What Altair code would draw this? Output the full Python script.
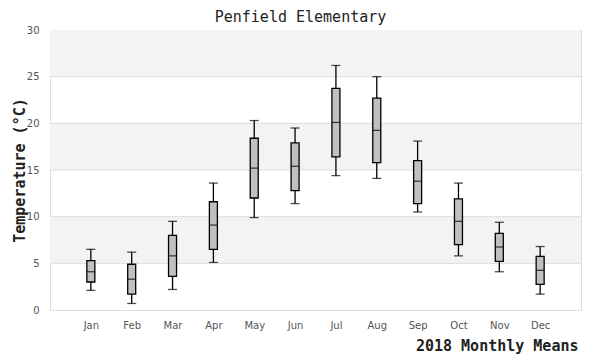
import altair as alt
import pandas as pd

months = ["Jan", "Feb", "Mar", "Apr", "May", "Jun", "Jul", "Aug", "Sep", "Oct", "Nov", "Dec"]
whisker_low = [2.1, 0.7, 2.2, 5.1, 9.9, 11.4, 14.4, 14.1, 10.5, 5.8, 4.1, 1.7]
q1 = [3.0, 1.7, 3.6, 6.5, 12.0, 12.8, 16.4, 15.8, 11.4, 7.0, 5.2, 2.75]
median = [4.1, 3.3, 5.8, 9.1, 15.2, 15.4, 20.1, 19.25, 13.8, 9.5, 6.75, 4.25]
q3 = [5.3, 4.9, 8.0, 11.6, 18.4, 17.9, 23.75, 22.7, 16.0, 11.9, 8.2, 5.75]
whisker_high = [6.5, 6.2, 9.5, 13.6, 20.3, 19.5, 26.2, 25.0, 18.1, 13.6, 9.4, 6.8]

band_lo = [5, 15, 25]
band_hi = [10, 20, 30]
grid_vals = [5, 10, 15, 20, 25]
y_ticks = [0, 5, 10, 15, 20, 25, 30]

W, H = 531, 280
MONO = "DejaVu Sans Mono"
SANS = "DejaVu Sans"

df = pd.DataFrame({"month": months, "lo": whisker_low, "q1": q1, "med": median,
                   "q3": q3, "hi": whisker_high})
bands = pd.DataFrame({"lo": band_lo, "hi": band_hi})
grid = pd.DataFrame({"v": grid_vals})

yscale = alt.Scale(domain=[0, 30], nice=False, zero=True)
xscale = alt.Scale(type="point", padding=1, domain=months)

x_enc = alt.X("month:N", sort=months, scale=xscale,
              axis=alt.Axis(title="2018 Monthly Means", labelAngle=0, ticks=False, domain=False,
                            labelFont=SANS, labelFontSize=10, labelColor="#555", labelPadding=10,
                            titleFont=MONO, titleFontSize=15, titleFontWeight="bold", titleColor="#222",
                            titleAnchor="end", titleAlign="right", titleBaseline="alphabetic",
                            titleX=W - 3, titleY=40, grid=False))

band_layer = alt.Chart(bands).mark_rect(fill="#f3f3f3").encode(
    x=alt.value(0), x2=alt.value(W),
    y=alt.Y("lo:Q", scale=yscale,
            axis=alt.Axis(title="Temperature (°C)", values=y_ticks, ticks=False, domain=False, grid=False,
                          labelFont=SANS, labelFontSize=10, labelColor="#555", labelPadding=11,
                          titleFont=MONO, titleFontSize=15, titleFontWeight="bold", titleColor="#222",
                          titleAngle=-90, titleAlign="center", titleBaseline="middle",
                          titleX=-31, titleY=H / 2)),
    y2="hi:Q",
)

grid_layer = alt.Chart(grid).mark_rule(color="#dddddd", strokeWidth=1).encode(
    x=alt.value(0), x2=alt.value(W), y=alt.Y("v:Q", scale=yscale)
)

base = alt.Chart(df)

whisk = base.mark_rule(color="black", strokeWidth=1.3).encode(
    x=x_enc, y=alt.Y("lo:Q", scale=yscale), y2="hi:Q"
)
box = base.mark_bar(size=8, fill="#c0c0c0", stroke="black", strokeWidth=1.3).encode(
    x=alt.X("month:N", sort=months, scale=xscale), y=alt.Y("q1:Q", scale=yscale), y2="q3:Q"
)
med = base.mark_tick(size=8, thickness=1.3, color="black").encode(
    x=alt.X("month:N", sort=months, scale=xscale), y=alt.Y("med:Q", scale=yscale)
)
cap_lo = base.mark_tick(size=9, thickness=1.3, color="black").encode(
    x=alt.X("month:N", sort=months, scale=xscale), y=alt.Y("lo:Q", scale=yscale)
)
cap_hi = base.mark_tick(size=9, thickness=1.3, color="black").encode(
    x=alt.X("month:N", sort=months, scale=xscale), y=alt.Y("hi:Q", scale=yscale)
)

chart = alt.layer(band_layer, grid_layer, whisk, box, med, cap_lo, cap_hi).properties(
    width=W, height=H,
    title=alt.TitleParams("Penfield Elementary", font=MONO, fontSize=15, fontWeight="normal",
                          color="#222", anchor="middle", frame="group", dx=-15, dy=6, offset=6),
    autosize=alt.AutoSizeParams(type="none"),
    padding={"left": 42, "top": 22, "right": 11, "bottom": 50},
).configure_view(stroke="#dddddd", strokeWidth=1)

chart.save("out.html", embed_options={"renderer": "svg", "actions": False})
